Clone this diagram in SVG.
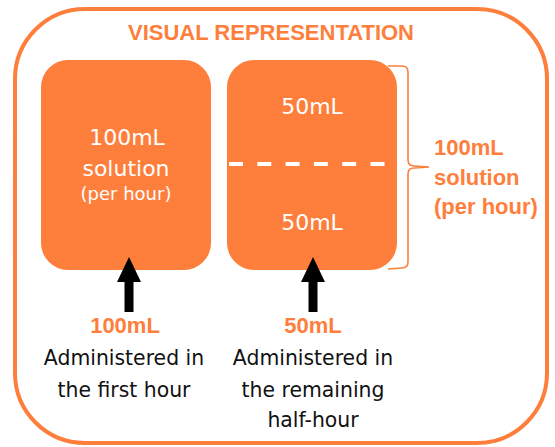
<svg xmlns="http://www.w3.org/2000/svg" width="555" height="447" viewBox="0 0 555 447">
<style>
.box{fill:#FE7E3C}
.wt{fill:#ffffff;font-family:"DejaVu Sans",sans-serif;text-anchor:middle}
.ob{fill:#FE7E3C;font-family:"Liberation Sans",Arial,sans-serif;font-weight:bold}
.bk{fill:#111111;font-family:"DejaVu Sans",sans-serif;font-size:20.4px;text-anchor:middle}
</style>
<defs>
<marker id="ah" viewBox="0 0 24 24" refX="12" refY="0" markerWidth="24" markerHeight="24" markerUnits="userSpaceOnUse" orient="auto-start-reverse">
<path d="M0,24 L12,0 L24,24 Z" fill="#000"/>
</marker>
</defs>
<rect id="frame" x="15" y="9" width="532" height="434" rx="70" ry="70" fill="#ffffff" stroke="#FE7E3C" stroke-width="4"/>
<text id="title" class="ob" x="271" y="40" font-size="22" text-anchor="middle">VISUAL REPRESENTATION</text>
<g id="box-left">
<rect class="box" x="41" y="60" width="170" height="210" rx="27" ry="27"/>
<text class="wt" x="127" y="145" font-size="22">100mL</text>
<text class="wt" x="126" y="176" font-size="22">solution</text>
<text class="wt" x="126" y="200" font-size="18">(per hour)</text>
</g>
<g id="box-right">
<rect class="box" x="227" y="60" width="170" height="210" rx="27" ry="27"/>
<text class="wt" x="312" y="114" font-size="22">50mL</text>
<text class="wt" x="312" y="230" font-size="22">50mL</text>
<line x1="229" y1="164" x2="385" y2="164" stroke="#ffffff" stroke-width="4" stroke-dasharray="14 14.3"/>
</g>
<g id="brace">
<path d="M388,66 L402,66 Q408,66 408,72 L408,160 Q408,166 414,166 L429,167 L414,168 Q408,168 408,174 L408,262 Q408,268 402,268 L388,269" fill="none" stroke="#FE7E3C" stroke-width="1.6"/>
<text class="ob" x="434" y="155" font-size="22">100mL</text>
<text class="ob" x="434" y="185" font-size="22">solution</text>
<text class="ob" x="434" y="214" font-size="22">(per hour)</text>
</g>
<g id="connectors">
<line x1="129" y1="312" x2="129" y2="281" stroke="#000" stroke-width="9"/>
<path d="M117,282 L129,257 L141,282 Z" fill="#000"/>
<line x1="313" y1="312" x2="313" y2="281" stroke="#000" stroke-width="9"/>
<path d="M301,282 L313,257 L325,282 Z" fill="#000"/>
</g>
<g id="label-left">
<text class="ob" x="125" y="333" font-size="22" text-anchor="middle">100mL</text>
<text class="bk" x="124" y="365">Administered in</text>
<text class="bk" x="124" y="397">the first hour</text>
</g>
<g id="label-right">
<text class="ob" x="313" y="333" font-size="22" text-anchor="middle">50mL</text>
<text class="bk" x="313" y="365">Administered in</text>
<text class="bk" x="313" y="397">the remaining</text>
<text class="bk" x="313" y="427">half-hour</text>
</g>
</svg>
